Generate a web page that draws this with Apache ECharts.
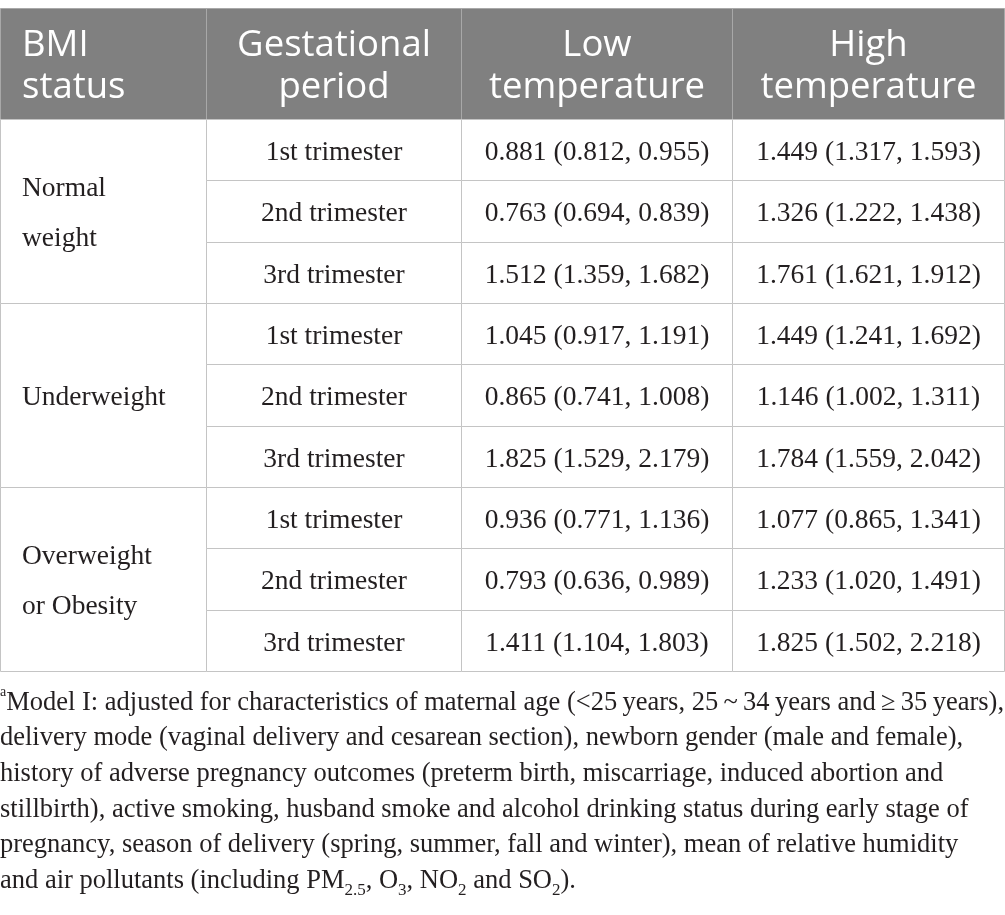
<!DOCTYPE html>
<html>
<head>
<meta charset="utf-8">
<script src="https://cdn.jsdelivr.net/npm/echarts@6/dist/echarts.min.js"></script>
<style>
html,body{margin:0;padding:0;background:#fff;}
#chart{width:1005px;height:915px;}
</style>
</head>
<body>
<div id="chart"></div>
<script>
// ---- data ----
const headers = ['BMI\nstatus', 'Gestational\nperiod', 'Low\ntemperature', 'High\ntemperature'];
const bmiGroups = ['Normal\nweight', 'Underweight', 'Overweight\nor Obesity'];
const periods = ['1st trimester', '2nd trimester', '3rd trimester'];
// 9 rows: Normal(1st,2nd,3rd), Under(1st,2nd,3rd), Over(1st,2nd,3rd)
const lowOR    = [0.881, 0.763, 1.512, 1.045, 0.865, 1.825, 0.936, 0.793, 1.411];
const lowLower = [0.812, 0.694, 1.359, 0.917, 0.741, 1.529, 0.771, 0.636, 1.104];
const lowUpper = [0.955, 0.839, 1.682, 1.191, 1.008, 2.179, 1.136, 0.989, 1.803];
const highOR    = [1.449, 1.326, 1.761, 1.449, 1.146, 1.784, 1.077, 1.233, 1.825];
const highLower = [1.317, 1.222, 1.621, 1.241, 1.002, 1.559, 0.865, 1.020, 1.502];
const highUpper = [1.593, 1.438, 1.912, 1.692, 1.311, 2.042, 1.341, 1.491, 2.218];
const footnoteLines = [
  '{sup|a}Model I: adjusted for characteristics of maternal age (<25\u2009years, 25\u2009~\u200934\u2009years and\u2009\u2265\u200935\u2009years),',
  'delivery mode (vaginal delivery and cesarean section), newborn gender (male and female),',
  'history of adverse pregnancy outcomes (preterm birth, miscarriage, induced abortion and',
  'stillbirth), active smoking, husband smoke and alcohol drinking status during early stage of',
  'pregnancy, season of delivery (spring, summer, fall and winter), mean of relative humidity',
  'and air pollutants (including PM{sub|2.5}, O{sub|3}, NO{sub|2} and SO{sub|2}).'
];

// ---- layout (column boundaries in px units of the x value axis) ----
const COL_EDGES = [0, 206, 461, 732, 1005];
const W = 1005;

const fmt = (a, b, c) => a.toFixed(3) + ' (' + b.toFixed(3) + ', ' + c.toFixed(3) + ')';

// header cells
const headerData = headers.map((h, i) => [i, 0, 1]);
const headerTexts = headers.slice();

// body cells
const bodyData = [];
const bodyTexts = [];
bmiGroups.forEach((g, gi) => {
  bodyData.push([0, gi * 3, 3]);
  bodyTexts.push(g);
});
for (let r = 0; r < 9; r++) {
  bodyData.push([1, r, 1]); bodyTexts.push(periods[r % 3]);
  bodyData.push([2, r, 1]); bodyTexts.push(fmt(lowOR[r], lowLower[r], lowUpper[r]));
  bodyData.push([3, r, 1]); bodyTexts.push(fmt(highOR[r], highLower[r], highUpper[r]));
}
const rowCats = [];
for (let r = 0; r < 9; r++) rowCats.push(r);

function makeRender(texts, opts) {
  return function (params, api) {
    const c = api.value(0), r = api.value(1), span = api.value(2);
    const bandH = api.size([0, 1])[1];
    const p0 = api.coord([COL_EDGES[c], r]);
    const p1 = api.coord([COL_EDGES[c + 1], r]);
    const x0 = Math.round(p0[0]) + 0.5;
    const x1 = Math.min(Math.round(p1[0]), W - 1) + 0.5;
    const yTop = Math.round(p0[1] - bandH / 2) + 0.5;
    const yBot = Math.round(p0[1] - bandH / 2 + bandH * span) + 0.5;
    const text = texts[params.dataIndex];
    const leftAlign = c === 0;
    return {
      type: 'group',
      children: [
        {
          type: 'rect',
          shape: { x: x0, y: yTop, width: x1 - x0, height: yBot - yTop },
          style: { fill: opts.fill, stroke: opts.stroke, lineWidth: 1 }
        },
        {
          type: 'text',
          style: {
            text: text,
            x: leftAlign ? x0 + 21.5 : (x0 + x1) / 2,
            y: (yTop + yBot) / 2 + opts.dy,
            align: leftAlign ? 'left' : 'center',
            verticalAlign: 'middle',
            fontSize: opts.fontSize,
            fontFamily: opts.fontFamily,
            lineHeight: (c === 0 ? opts.groupLineHeight : opts.lineHeight),
            fill: opts.color
          }
        }
      ]
    };
  };
}

const chart = echarts.init(document.getElementById('chart'), null, { renderer: 'canvas' });
chart.setOption({
  animation: false,
  backgroundColor: '#ffffff',
  grid: [
    { left: 0, right: 0, top: 8, height: 111 },
    { left: 0, right: 0, top: 119, height: 552 }
  ],
  xAxis: [
    { type: 'value', gridIndex: 0, min: 0, max: W, show: false },
    { type: 'value', gridIndex: 1, min: 0, max: W, show: false }
  ],
  yAxis: [
    { type: 'category', gridIndex: 0, data: [0], show: false },
    { type: 'category', gridIndex: 1, data: rowCats, inverse: true, show: false }
  ],
  series: [
    {
      type: 'custom',
      xAxisIndex: 0, yAxisIndex: 0,
      data: headerData,
      renderItem: makeRender(headerTexts, {
        fill: '#808080', stroke: '#a8a8a8', color: '#ffffff',
        fontSize: 36.5, fontFamily: '"Open Sans", "Noto Sans", sans-serif',
        lineHeight: 42, groupLineHeight: 42, dy: 3
      })
    },
    {
      type: 'custom',
      xAxisIndex: 1, yAxisIndex: 1,
      data: bodyData,
      renderItem: makeRender(bodyTexts, {
        fill: '#ffffff', stroke: '#c4c4c4', color: '#231f20',
        fontSize: 27.5, fontFamily: '"Liberation Serif", "DejaVu Serif", serif',
        lineHeight: 30, groupLineHeight: 50, dy: 2.5
      })
    }
  ],
  graphic: [
    {
      type: 'text',
      left: 0,
      top: 685,
      style: {
        text: footnoteLines.join('\n'),
        fontSize: 26.5,
        fontFamily: '"Liberation Serif", "DejaVu Serif", serif',
        lineHeight: 35.6,
        fill: '#231f20',
        rich: {
          sup: { fontSize: 14, lineHeight: 24, verticalAlign: 'top', fontFamily: '"Liberation Serif", serif', fill: '#231f20' },
          sub: { fontSize: 17, lineHeight: 20, verticalAlign: 'bottom', fontFamily: '"Liberation Serif", serif', fill: '#231f20' }
        }
      }
    }
  ]
});
</script>
</body>
</html>
